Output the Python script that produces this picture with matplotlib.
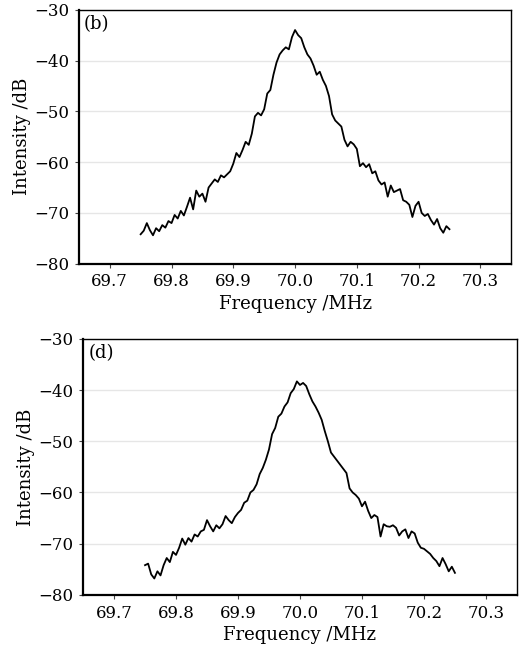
import matplotlib
matplotlib.use("Agg")
import matplotlib.pyplot as plt
import numpy as np

plt.rcParams["font.family"] = "DejaVu Serif"
plt.rcParams["font.size"] = 12

# frequency grid (MHz), 0.005 step
freq = np.round(np.arange(69.750, 70.2501, 0.005), 3)

# (b) intensity (dB)
intensity_b = [
    -74.2, -73.5, -72.0, -73.4, -74.4, -73.0, -73.6, -72.4, -72.9, -71.6,
    -72.0, -70.4, -71.1, -69.6, -70.5, -68.8, -67.0, -69.3, -65.6, -66.8,
    -66.2, -67.8, -65.0, -64.2, -63.4, -63.9, -62.6, -63.0, -62.4, -61.8,
    -60.3, -58.2, -59.0, -57.6, -56.0, -56.6, -54.4, -51.0, -50.3, -50.8,
    -49.6, -46.5, -45.8, -42.8, -40.4, -38.8, -38.0, -37.4, -37.8, -35.4,
    -34.0, -35.0, -35.6, -37.4, -38.8, -39.6, -41.0, -42.8, -42.2, -43.8,
    -45.0, -47.0, -50.6, -51.8, -52.4, -53.0, -55.6, -56.9, -56.0, -56.5,
    -57.4, -60.8, -60.2, -61.0, -60.4, -62.2, -61.8, -63.6, -64.4, -64.0,
    -66.8, -64.6, -65.9, -65.6, -65.3, -67.5, -67.8, -68.4, -70.8, -68.6,
    -67.8, -70.0, -70.6, -70.2, -71.4, -72.3, -71.2, -73.0, -73.9, -72.6,
    -73.2,
]

# (d) intensity (dB)
intensity_d = [
    -74.2, -73.9, -76.0, -76.8, -75.4, -76.2, -74.2, -72.8, -73.6, -71.6,
    -72.2, -70.8, -69.0, -70.2, -68.9, -69.6, -68.2, -68.6, -67.6, -67.3,
    -65.4, -66.6, -67.6, -66.4, -67.0, -66.2, -64.6, -65.4, -66.0, -64.8,
    -64.0, -63.4, -62.0, -61.6, -60.0, -59.5, -58.4, -56.4, -55.2, -53.6,
    -51.6, -48.6, -47.4, -45.2, -44.6, -43.2, -42.4, -40.6, -39.8, -38.3,
    -39.0, -38.6, -39.2, -40.8, -42.2, -43.2, -44.4, -45.8, -48.0, -50.0,
    -52.2, -53.0, -53.8, -54.6, -55.4, -56.2, -59.2, -60.0, -60.5, -61.2,
    -62.7, -61.8, -63.6, -65.0, -64.4, -64.8, -68.6, -66.2, -66.6, -66.7,
    -66.4, -66.9, -68.4, -67.6, -67.2, -68.9, -67.6, -68.0, -69.8, -70.8,
    -71.0, -71.5, -72.0, -72.8, -73.4, -74.4, -72.8, -74.0, -75.4, -74.5,
    -75.7,
]

xticks = [69.7, 69.8, 69.9, 70.0, 70.1, 70.2, 70.3]
yticks = [-80, -70, -60, -50, -40, -30]

fig = plt.figure(figsize=(5.19, 6.48), dpi=100)
ax1 = fig.add_axes([0.152, 0.593, 0.833, 0.392])
ax2 = fig.add_axes([0.160, 0.082, 0.836, 0.395])

for ax, y, tag in [(ax1, intensity_b, "(b)"), (ax2, intensity_d, "(d)")]:
    ax.plot(freq, y, color="black", linewidth=1.3)
    ax.set_xlim(69.65, 70.35)
    ax.set_ylim(-80, -30)
    ax.set_xticks(xticks)
    ax.set_xticklabels([f"{t:.1f}" for t in xticks])
    ax.set_yticks(yticks)
    ax.grid(axis="y", color="#e6e6e6", linewidth=1.0)
    ax.set_axisbelow(True)
    ax.tick_params(length=3, width=0.8, color="#444444", pad=4)
    for side in ["top", "right"]:
        ax.spines[side].set_linewidth(1.0)
    for side in ["left", "bottom"]:
        ax.spines[side].set_linewidth(1.6)
    ax.set_xlabel("Frequency /MHz", fontsize=13, labelpad=3)
    ax.set_ylabel("Intensity /dB", fontsize=13, labelpad=2)
    ax.text(0.012, 0.98, tag, transform=ax.transAxes, ha="left", va="top",
            fontsize=13)

fig.savefig("out.png", dpi=100)
